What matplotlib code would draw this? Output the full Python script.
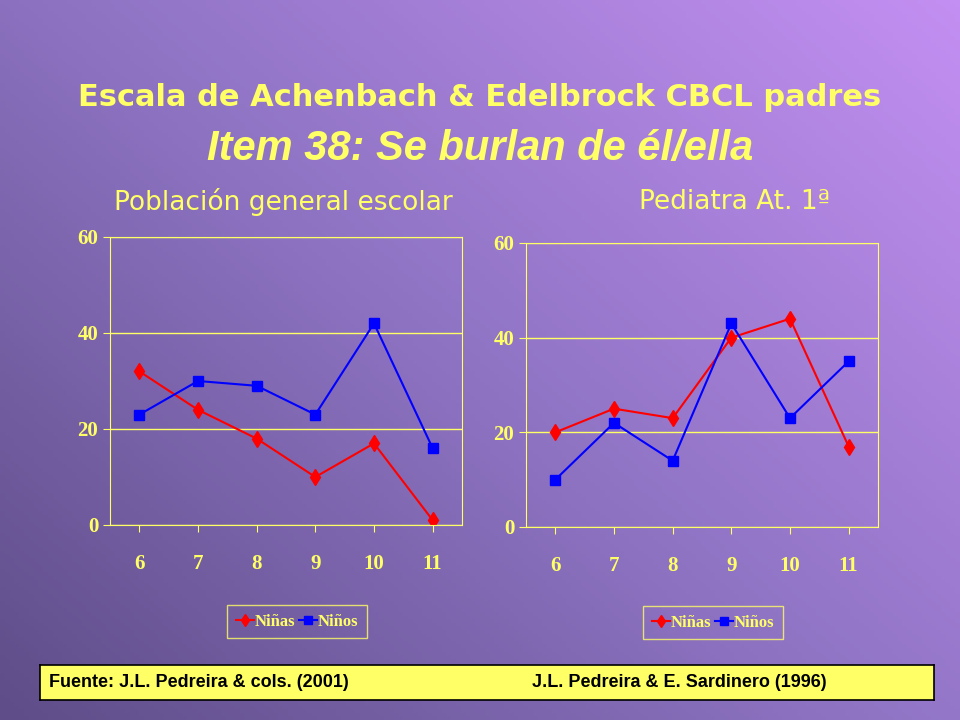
import numpy as np
import matplotlib
matplotlib.use("Agg")
import matplotlib.pyplot as plt
from matplotlib.colors import LinearSegmentedColormap

ages = [6, 7, 8, 9, 10, 11]
left_ninas = [32, 24, 18, 10, 17, 1]
left_ninos = [23, 30, 29, 23, 42, 16]
right_ninas = [20, 25, 23, 40, 44, 17]
right_ninos = [10, 22, 14, 43, 23, 35]
yticks = [0, 20, 40, 60]

fig = plt.figure(figsize=(9.6, 7.2), dpi=100)
bg = fig.add_axes([0, 0, 1, 1])
yy, xx = np.mgrid[0:1:200j, 0:1:200j]
t = (xx * 0.55 + (1 - yy) * 0.45)
cmap = LinearSegmentedColormap.from_list("bg", ["#5e4d88", "#8f74c4", "#c38ff2"])
bg.imshow(t, cmap=cmap, extent=[0, 1, 0, 1], aspect="auto", origin="upper")
bg.axis("off")

yellow = "#ffff66"
fig.text(0.5, 0.865, "Escala de Achenbach & Edelbrock CBCL padres", ha="center", va="center",
         color=yellow, fontsize=22, fontweight="bold", family="DejaVu Sans")
fig.text(0.5, 0.793, "Item 38: Se burlan de él/ella", ha="center", va="center",
         color=yellow, fontsize=30, fontweight="bold", style="italic", family="Liberation Sans")
fig.text(0.295, 0.72, "Población general escolar", ha="center", va="center", color=yellow, fontsize=19)
fig.text(0.765, 0.72, "Pediatra At. 1ª", ha="center", va="center", color=yellow, fontsize=19)

def panel(rect, ninas, ninos, legx):
    ax = fig.add_axes(rect)
    ax.patch.set_alpha(0)
    ax.plot(ages, ninas, color="#ff0000", marker="d", markersize=8, lw=1.5, label="Niñas")
    ax.plot(ages, ninos, color="#0000ff", marker="s", markersize=7, lw=1.5, label="Niños")
    ax.set_xlim(5.5, 11.5)
    ax.set_ylim(0, 60)
    ax.set_xticks(ages)
    ax.set_yticks(yticks)
    for s in ax.spines.values():
        s.set_color(yellow)
    ax.grid(axis="y", color=yellow, lw=1)
    ax.tick_params(colors=yellow, labelsize=15, length=5)
    ax.tick_params(axis="x", pad=16)
    for lab in ax.get_xticklabels() + ax.get_yticklabels():
        lab.set_family("Liberation Serif"); lab.set_fontweight("bold"); lab.set_color(yellow)
    leg = ax.legend(loc="upper left", bbox_to_anchor=(legx, -0.25), ncol=2, frameon=True,
                    handlelength=1.1, columnspacing=0.2, handletextpad=0.05, markerscale=0.8,
                    borderpad=0.5, prop={"family": "Liberation Serif", "weight": "bold", "size": 12})
    leg.get_frame().set_facecolor("none")
    leg.get_frame().set_edgecolor(yellow)
    leg.get_frame().set_boxstyle("square", pad=0)
    for tx in leg.get_texts():
        tx.set_color(yellow)
    return ax

panel([110/960, 195/720, 352/960, 288/720], left_ninas, left_ninos, 0.31)
panel([526/960, 193/720, 352/960, 284/720], right_ninas, right_ninos, 0.31)

box = fig.add_axes([40/960, 20/720, 894/960, 35/720])
box.set_xticks([]); box.set_yticks([])
box.set_facecolor("#ffff66")
for s in box.spines.values():
    s.set_color("black"); s.set_linewidth(1.2)
box.text(0.01, 0.5, "Fuente: J.L. Pedreira & cols. (2001)", va="center", fontsize=13, fontweight="bold",
         family="Liberation Sans", transform=box.transAxes)
box.text(0.55, 0.5, "J.L. Pedreira & E. Sardinero (1996)", va="center", fontsize=13, fontweight="bold",
         family="Liberation Sans", transform=box.transAxes)

fig.savefig("out.png", dpi=100)
